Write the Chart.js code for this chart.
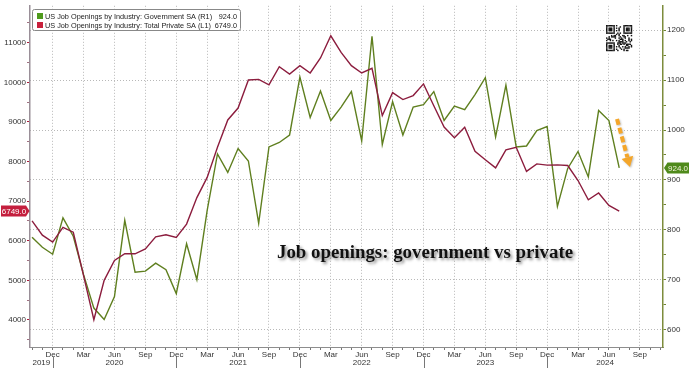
<!DOCTYPE html>
<html><head><meta charset="utf-8">
<script src="https://cdn.jsdelivr.net/npm/chart.js@4.4.1/dist/chart.umd.min.js"></script>
<style>html,body{margin:0;padding:0;background:#fff;overflow:hidden}#wrap{width:690px;height:379px}</style>
</head><body><div id="wrap"><canvas id="c" width="690" height="379"></canvas></div>
<script>
// ---- data ----
const months = ['2019-10','2019-11','2019-12',
 '2020-01','2020-02','2020-03','2020-04','2020-05','2020-06','2020-07','2020-08','2020-09','2020-10','2020-11','2020-12',
 '2021-01','2021-02','2021-03','2021-04','2021-05','2021-06','2021-07','2021-08','2021-09','2021-10','2021-11','2021-12',
 '2022-01','2022-02','2022-03','2022-04','2022-05','2022-06','2022-07','2022-08','2022-09','2022-10','2022-11','2022-12',
 '2023-01','2023-02','2023-03','2023-04','2023-05','2023-06','2023-07','2023-08','2023-09','2023-10','2023-11','2023-12',
 '2024-01','2024-02','2024-03','2024-04','2024-05','2024-06','2024-07'];
const privateOpenings = [6500,6140,5965,6340,6215,5120,4005,5000,5500,5675,5670,5795,6100,6150,6085,
 6420,7090,7600,8360,9050,9350,10060,10075,9935,10395,10210,10420,
 10235,10615,11175,10755,10420,10235,10355,9160,9740,9565,9665,9960,
 9410,8870,8600,8865,8260,8045,7840,8295,8360,7750,7940,7910,
 7915,7900,7520,7035,7205,6890,6749];
const governmentOpenings = [785,765,751,824,787,710,643,620,666,819,715,717,733,720,672,
 772,700,839,952,915,963,938,813,966,975,990,1106,
 1025,1078,1019,1046,1077,978,1188,971,1057,990,1046,1051,
 1077,1019,1048,1041,1071,1105,986,1090,966,968,999,1007,
 847,923,957,906,1039,1019,924];
const quarterLabels = {12:'Dec',3:'Mar',6:'Jun',9:'Sep'};
const yearLabels = ['2019','2020','2021','2022','2023','2024'];
const leftTickLabels = [4000,5000,6000,7000,8000,9000,10000,11000];
const rightTickLabels = [600,700,800,900,1000,1100,1200];
const legendLabels = ['US Job Openings by Industry: Government SA (R1)','US Job Openings by Industry: Total Private SA (L1)'];
const titleText = 'Job openings: government vs private';

// month index relative to Dec 2019
const mIdx = s => { const [y,m] = s.split('-').map(Number); return (y-2019)*12 + (m-12); };
const monthOf = v => ((v % 12) + 12 + 11) % 12 + 1;

const GREEN = '#5f7f1f', RED = '#8c1d3e';
const FONT = '"Liberation Sans", Arial, sans-serif';

const overlay = {
  id:'overlay',
  afterDraw(chart){
    const ctx = chart.ctx, x = chart.scales.x, yL = chart.scales.yL, yR = chart.scales.yR;
    ctx.save();
    // year labels and separators
    ctx.font = '8px ' + FONT; ctx.fillStyle = '#333'; ctx.textAlign = 'center'; ctx.textBaseline = 'middle';
    yearLabels.forEach(yl => {
      const y = Number(yl);
      let a = (y-2020)*12, b = (y-2019)*12;
      a = Math.max(a, x.min); b = Math.min(b, x.max);
      ctx.fillText(yl, x.getPixelForValue((a+b)/2), 363);
      if ((y-2019)*12 < x.max) {
        const px = Math.round(x.getPixelForValue((y-2019)*12)) + 0.5;
        ctx.strokeStyle = '#777'; ctx.lineWidth = 1;
        ctx.beginPath(); ctx.moveTo(px, 357); ctx.lineTo(px, 368); ctx.stroke();
      }
    });
    // legend box
    ctx.fillStyle = '#fff'; ctx.strokeStyle = '#888'; ctx.lineWidth = 1;
    ctx.beginPath(); ctx.roundRect(32.5, 9.5, 208, 21, 2); ctx.fill(); ctx.stroke();
    ctx.fillStyle = '#4e9a1c'; ctx.fillRect(37, 13, 6, 6);
    ctx.fillStyle = '#c8203c'; ctx.fillRect(37, 22, 6, 6);
    ctx.fillStyle = '#222'; ctx.textAlign = 'left'; ctx.textBaseline = 'middle';
    ctx.font = '8px ' + FONT;
    const w0 = ctx.measureText(legendLabels[1]).width;
    const fs = 8 * 166 / w0;
    ctx.font = fs.toFixed(2) + 'px ' + FONT;
    ctx.fillText(legendLabels[0], 45, 16.5);
    ctx.fillText(legendLabels[1], 45, 25.5);
    ctx.textAlign = 'right';
    ctx.fillText(governmentOpenings[governmentOpenings.length-1].toFixed(1), 237, 16.5);
    ctx.fillText(privateOpenings[privateOpenings.length-1].toFixed(1), 237, 25.5);
    // value tags
    const lv = privateOpenings[privateOpenings.length-1], rv = governmentOpenings[governmentOpenings.length-1];
    let ty = yL.getPixelForValue(lv);
    ctx.fillStyle = '#c41f3e';
    ctx.beginPath(); ctx.moveTo(1, ty-5.5); ctx.lineTo(26, ty-5.5); ctx.lineTo(29.5, ty); ctx.lineTo(26, ty+5.5); ctx.lineTo(1, ty+5.5); ctx.closePath(); ctx.fill();
    ctx.fillStyle = '#fff'; ctx.textAlign = 'center'; ctx.font = '8px ' + FONT;
    ctx.fillText(lv.toFixed(1), 14, ty+0.5);
    ty = yR.getPixelForValue(rv);
    ctx.fillStyle = '#4f8a1b';
    ctx.beginPath(); ctx.moveTo(664, ty); ctx.lineTo(667.5, ty-5.5); ctx.lineTo(689, ty-5.5); ctx.lineTo(689, ty+5.5); ctx.lineTo(667.5, ty+5.5); ctx.closePath(); ctx.fill();
    ctx.fillStyle = '#f4f4dc';
    ctx.fillText(rv.toFixed(1), 678, ty+0.5);
    // title
    ctx.font = 'bold 17px "Liberation Serif", serif';
    const tw = ctx.measureText(titleText).width;
    const tfs = 17 * 296 / tw;
    ctx.font = 'bold ' + tfs.toFixed(2) + 'px "Liberation Serif", serif';
    ctx.shadowColor = 'rgba(0,0,0,0.45)'; ctx.shadowOffsetX = 2; ctx.shadowOffsetY = 2; ctx.shadowBlur = 3;
    ctx.fillStyle = '#111'; ctx.textAlign = 'left'; ctx.textBaseline = 'alphabetic';
    ctx.fillText(titleText, 277, 258);
    // arrow
    ctx.shadowColor = 'rgba(0,0,0,0.25)'; ctx.shadowOffsetX = 1; ctx.shadowOffsetY = 1; ctx.shadowBlur = 2;
    const sx = 617, sy = 119, tx = 630, tyy = 167;
    const dl = Math.hypot(tx-sx, tyy-sy), dx = (tx-sx)/dl, dy = (tyy-sy)/dl;
    const bx = tx - 10*dx, by = tyy - 10*dy;
    ctx.strokeStyle = '#f4a62a'; ctx.lineWidth = 4; ctx.setLineDash([6,3]);
    ctx.beginPath(); ctx.moveTo(sx, sy); ctx.lineTo(bx, by); ctx.stroke();
    ctx.setLineDash([]);
    ctx.fillStyle = '#f4a62a';
    ctx.beginPath(); ctx.moveTo(tx, tyy); ctx.lineTo(bx - 6*dy, by + 6*dx); ctx.lineTo(bx + 6*dy, by - 6*dx); ctx.closePath(); ctx.fill();
    ctx.shadowColor = 'transparent';
    // QR-like mark
    const qx = 606, qy = 25, n = 21, ms = 26/n;
    ctx.fillStyle = '#fff'; ctx.fillRect(qx-1, qy-1, 28, 28);
    ctx.fillStyle = '#111';
    const seed = titleText + legendLabels.join('');
    for (let r = 0; r < n; r++) for (let c = 0; c < n; c++) {
      const inF = (r<8&&c<8)||(r<8&&c>=n-8)||(r>=n-8&&c<8);
      let on;
      if (inF) {
        const rr = r<8?r:r-(n-7), cc = c<8?c:c-(n-7);
        on = (rr>=0&&rr<7&&cc>=0&&cc<7) && (rr===0||rr===6||cc===0||cc===6||(rr>=2&&rr<=4&&cc>=2&&cc<=4));
      } else {
        const code = seed.charCodeAt((r*n+c) % seed.length);
        on = ((code * (r+3) + c*7) % 5) < 2;
      }
      if (on) ctx.fillRect(qx + c*ms, qy + r*ms, ms+0.2, ms+0.2);
    }
    ctx.restore();
  }
};

const ticksEvery = (from, to, step) => { const a = []; for (let v = from; v <= to; v += step) a.push({value:v}); return a; };

new Chart(document.getElementById('c'), {
  type: 'line',
  data: {
    datasets: [
      { label: legendLabels[1], data: months.map((m,i)=>({x:mIdx(m), y:privateOpenings[i]})), yAxisID:'yL',
        borderColor: RED, borderWidth: 1.4, pointRadius: 0, tension: 0 },
      { label: legendLabels[0], data: months.map((m,i)=>({x:mIdx(m), y:governmentOpenings[i]})), yAxisID:'yR',
        borderColor: GREEN, borderWidth: 1.4, pointRadius: 0, tension: 0 }
    ]
  },
  options: {
    responsive: false, animation: false, devicePixelRatio: 1,
    layout: { padding: { top: 5, left: 0, right: 0, bottom: 0 } },
    plugins: { legend: { display: false }, tooltip: { enabled: false } },
    scales: {
      x: {
        type: 'linear', min: -2.2, max: 59.25,
        afterBuildTicks: s => { s.ticks = ticksEvery(-2, 59, 1); },
        afterFit: s => { s.height = 32; },
        ticks: { autoSkip: false, maxRotation: 0, minRotation: 0, padding: 0, color: '#333',
          font: { family: FONT, size: 8 },
          callback: v => quarterLabels[monthOf(v)] || '' },
        grid: { color: c => (c.tick && quarterLabels[monthOf(c.tick.value)] && c.tick.value > -2) ? '#b8b8b8' : 'rgba(0,0,0,0)',
          tickColor: '#777', tickLength: 3, lineWidth: 1 },
        border: { color: '#8d8d8d', width: 1, dash: [1,2] }
      },
      yL: {
        type: 'linear', position: 'left', min: 3317, max: 11932,
        afterBuildTicks: s => { s.ticks = ticksEvery(3500, 11500, 500); },
        afterFit: s => { s.width = 30; },
        ticks: { padding: 1, color: '#333', font: { family: FONT, size: 8 },
          callback: v => leftTickLabels.includes(v) ? String(v) : '' },
        grid: { drawOnChartArea: false, tickLength: 3, tickColor: c => (c.tick && c.tick.value % 1000 === 0) ? '#b01a3a' : '#a07080' },
        border: { color: '#9a8f98', width: 1.5 }
      },
      yR: {
        type: 'linear', position: 'right', min: 565, max: 1249,
        afterBuildTicks: s => { s.ticks = ticksEvery(600, 1200, 50); },
        afterFit: s => { s.width = 27; },
        ticks: { padding: 1, color: '#333', font: { family: FONT, size: 8 },
          callback: v => rightTickLabels.includes(v) ? String(v) : '' },
        grid: { color: c => (c.tick && c.tick.value % 100 === 0) ? '#b8b8b8' : 'rgba(0,0,0,0)',
          tickColor: '#6f8430', tickLength: 3 },
        border: { color: '#7d8c3c', width: 1.5, dash: [1,2] }
      }
    }
  },
  plugins: [overlay]
});
</script></body></html>
